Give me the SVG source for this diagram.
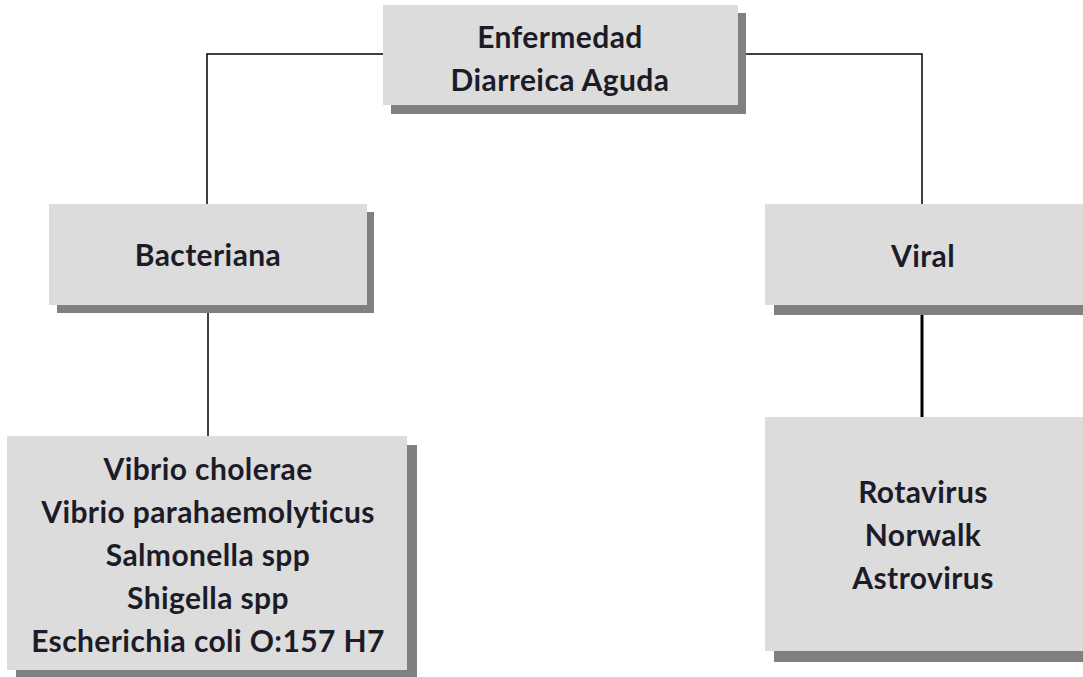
<svg xmlns="http://www.w3.org/2000/svg" width="1083" height="677" viewBox="0 0 1083 677">
  <style>
    .box { fill: #dcdcdc; }
    .shadow { fill: #808080; }
    .label { font-family: Lato, "Open Sans", "Liberation Sans", sans-serif; font-weight: bold; font-size: 30px; letter-spacing: 0.4px; font-variant-ligatures: none; fill: #1c1c28; text-anchor: middle; }
    .wire { fill: none; stroke: #000; stroke-width: 1.5; }
    .wire-thick { fill: none; stroke: #000; stroke-width: 3; }
  </style>
  <rect width="1083" height="677" fill="#ffffff"/>

  <!-- connectors -->
  <g id="connectors">
    <polyline class="wire" points="383,54 207,54 207,204"/>
    <polyline class="wire" points="746,54 922,54 922,204"/>
    <line class="wire" x1="208" y1="313" x2="208" y2="436"/>
    <line class="wire-thick" x1="922" y1="315" x2="922" y2="417"/>
  </g>

  <!-- root -->
  <g id="node-eda">
    <rect class="shadow" x="391" y="13" width="355" height="101"/>
    <rect class="box" x="383" y="5" width="355" height="100"/>
    <text class="label" x="560" y="48">Enfermedad</text>
    <text class="label" x="560" y="91">Diarreica Aguda</text>
  </g>

  <!-- bacterial branch -->
  <g id="node-bacteriana">
    <rect class="shadow" x="57" y="212" width="317" height="101"/>
    <rect class="box" x="49" y="204" width="318" height="101"/>
    <text class="label" x="208" y="266">Bacteriana</text>
  </g>

  <!-- viral branch -->
  <g id="node-viral">
    <rect class="shadow" x="774" y="214" width="320" height="101"/>
    <rect class="box" x="765" y="204" width="325" height="101"/>
    <text class="label" x="923" y="267">Viral</text>
  </g>

  <g id="node-bacterias">
    <rect class="shadow" x="16" y="445" width="401" height="235"/>
    <rect class="box" x="7" y="436" width="400" height="234"/>
    <text class="label" x="208" y="480">Vibrio cholerae</text>
    <text class="label" x="208" y="523">Vibrio parahaemolyticus</text>
    <text class="label" x="208" y="566">Salmonella spp</text>
    <text class="label" x="208" y="609">Shigella spp</text>
    <text class="label" x="208" y="652">Escherichia coli O:157 H7</text>
  </g>

  <g id="node-virus">
    <rect class="shadow" x="774" y="427" width="320" height="235"/>
    <rect class="box" x="765" y="417" width="325" height="234"/>
    <text class="label" x="923" y="503">Rotavirus</text>
    <text class="label" x="923" y="546">Norwalk</text>
    <text class="label" x="923" y="589">Astrovirus</text>
  </g>
</svg>
